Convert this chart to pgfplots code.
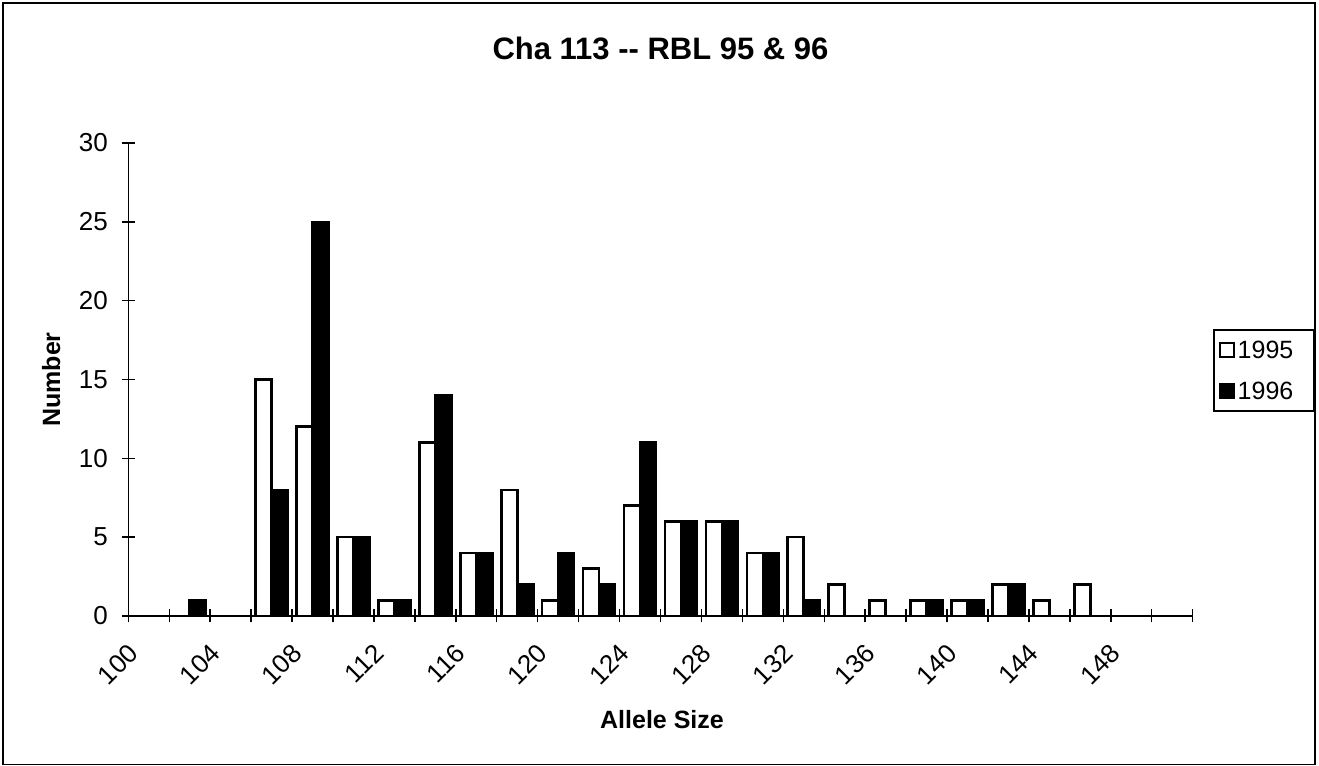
\documentclass[border=0pt]{standalone}
\usepackage{fontspec}
\setmainfont{Liberation Sans}
\usepackage{pgfplots}
\pgfplotsset{compat=1.18}
\begin{document}
\begin{tikzpicture}
\begin{axis}[
  at={(0,0)}, anchor=south west,
  scale only axis, width=532.2pt, height=236.5pt,
  xmin=-0.5, xmax=25.5, ymin=0, ymax=30,
  axis x line*=bottom, axis y line*=left,
  x axis line style={line width=1.2pt},
  y axis line style={line width=0.7pt},
  ybar=0pt, bar width=8pt,
  xtick={0,2,...,24},
  xticklabels={100,104,108,112,116,120,124,128,132,136,140,144,148},
  minor xtick={-0.5,0.5,...,25.5},
  ytick={0,5,...,30}, minor ytick={0,5,...,30},
  major tick length=0pt, minor tick length=6.5pt, tick align=center,
  tick style={black, line width=0.7pt},
  /pgf/number format/assume math mode=true,
  tick label style={font=\fontsize{13}{15}\selectfont},
  xticklabel style={xshift=-11pt, yshift=-13pt, rotate=45, anchor=north east, inner sep=0pt},
  yticklabel style={anchor=east, inner sep=0pt, xshift=-10pt},
  title={Cha 113 -{}- RBL 95 \& 96},
  title style={font=\bfseries\fontsize{15.5}{18}\selectfont, at={(axis description cs:0.5,1.152)}, anchor=base},
  xlabel={Allele Size},
  xlabel style={font=\bfseries\fontsize{12.5}{15}\selectfont, at={(axis description cs:0.5014,-0.2368)}, anchor=base},
  ylabel={Number},
  ylabel style={font=\bfseries\fontsize{12.5}{15}\selectfont, at={(axis description cs:-0.0640,0.5)}, anchor=base, rotate=0},
  legend style={at={(axis description cs:1.019,0.6068)}, anchor=north west, draw=black, line width=0.8pt,
    inner xsep=2.5pt, inner ysep=3.5pt, font=\fontsize{12.5}{14}\selectfont, row sep=7.5pt,
    nodes={text height=9pt, text depth=0pt, inner ysep=2pt, inner xsep=1.5pt}},
  legend cell align=left,
]
\addplot[fill=white, draw=black, line width=1.3pt,
  legend image code/.code={\draw[fill=white, draw=black, line width=1pt] (0pt,-3.5pt) rectangle (7pt,3.5pt);}]
  coordinates {(3,15) (4,12) (5,5) (6,1) (7,11) (8,4) (9,8) (10,1) (11,3) (12,7) (13,6) (14,6) (15,4) (16,5) (17,2) (18,1) (19,1) (20,1) (21,2) (22,1) (23,2)};
\addplot[fill=black, draw=black, line width=1.3pt,
  legend image code/.code={\draw[fill=black, draw=black, line width=1pt] (0pt,-3.5pt) rectangle (7pt,3.5pt);}]
  coordinates {(1,1) (3,8) (4,25) (5,5) (6,1) (7,14) (8,4) (9,2) (10,4) (11,2) (12,11) (13,6) (14,6) (15,4) (16,1) (19,1) (20,1) (21,2)};
\legend{\makebox[34pt][l]{1995},\makebox[34pt][l]{1996}}
\end{axis}
\draw[line width=0.8pt] (-62.65pt,-74.25pt) rectangle (593.35pt,306.5pt);
\pgfresetboundingbox
\useasboundingbox (-64.15pt,-75pt) rectangle (595.35pt,308pt);
\end{tikzpicture}
\end{document}
